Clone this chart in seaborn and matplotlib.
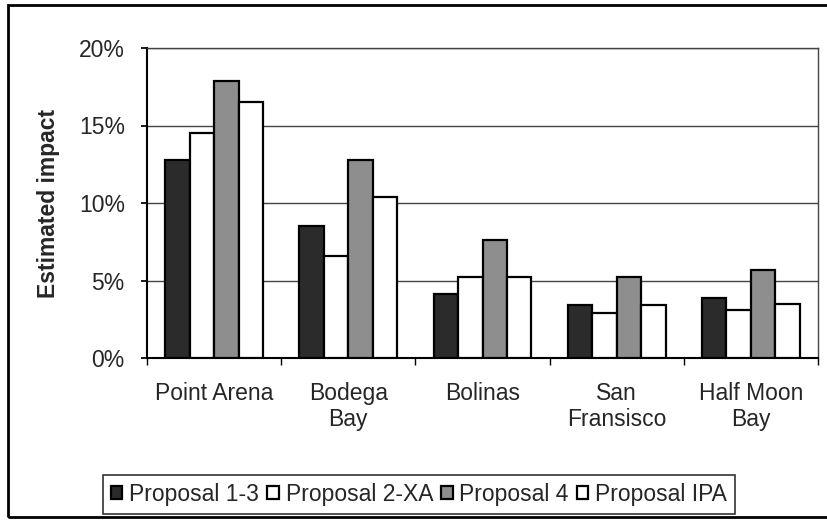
import numpy as np
import pandas as pd
import matplotlib
matplotlib.use("Agg")
import matplotlib.pyplot as plt
from matplotlib.ticker import PercentFormatter, FixedLocator
from matplotlib.patches import Rectangle
import seaborn as sns

# data (percent)
sites = ["Point Arena", "Bodega\nBay", "Bolinas", "San\nFransisco", "Half Moon\nBay"]
proposals = ["Proposal 1-3", "Proposal 2-XA", "Proposal 4", "Proposal IPA"]
p_1_3 = [12.8, 8.5, 4.1, 3.4, 3.9]
p_2_xa = [14.5, 6.6, 5.2, 2.9, 3.1]
p_4 = [17.9, 12.8, 7.6, 5.2, 5.7]
p_ipa = [16.5, 10.4, 5.2, 3.4, 3.5]
yticks = [0, 5, 10, 15, 20]

df = pd.DataFrame({
    "site": sites * 4,
    "proposal": np.repeat(proposals, len(sites)),
    "impact": p_1_3 + p_2_xa + p_4 + p_ipa,
})

sns.set_theme(style="white")
plt.rcParams["font.family"] = ["Liberation Sans", "DejaVu Sans"]

colors = ["#2b2b2b", "#ffffff", "#8e8e8e", "#ffffff"]

fig = plt.figure(figsize=(8.28, 5.23), dpi=100)
ax = fig.add_axes([147 / 828, 1 - 358 / 523, 671 / 828, 310 / 523])

sns.barplot(data=df, x="site", y="impact", hue="proposal", order=sites,
            hue_order=proposals, palette=colors, width=0.73, saturation=1,
            edgecolor="black", linewidth=1.6, ax=ax, legend=True, zorder=3)

ax.set_ylim(0, 20)
ax.set_xlim(-0.5, len(sites) - 0.5)
ax.yaxis.set_major_locator(FixedLocator(yticks))
ax.yaxis.set_major_formatter(PercentFormatter(decimals=0))
ax.grid(axis="y", color="#444444", linewidth=1.0, zorder=0)
ax.set_axisbelow(True)

ax.set_xlabel("")
ax.set_ylabel("Estimated impact", fontsize=16.5, fontweight="bold")
ax.yaxis.set_label_coords(-0.13, 0.5)

ax.tick_params(axis="y", labelsize=16.5, length=4, direction="out", pad=12,
               left=True, color="black")
ax.tick_params(axis="x", labelsize=16.5, length=0, pad=17)
ax.set_xticks(np.arange(-0.5, len(sites)), minor=True)
ax.tick_params(axis="x", which="minor", length=5, bottom=True, color="black")

for side in ["left", "bottom"]:
    ax.spines[side].set_color("black")
    ax.spines[side].set_linewidth(1.5)
ax.spines["top"].set_color("#444444")
ax.spines["top"].set_linewidth(1.0)
ax.spines["right"].set_color("#444444")
ax.spines["right"].set_linewidth(1.0)

handles, labels = ax.get_legend_handles_labels()
ax.legend_.remove()
leg = fig.legend(handles, labels, loc="center", bbox_to_anchor=(419 / 828, 1 - 494.5 / 523),
                 ncol=4, fontsize=16.5, frameon=True, fancybox=False,
                 edgecolor="black", handlelength=0.5, handleheight=0.5,
                 handletextpad=0.3, columnspacing=0.35, borderpad=0.35,
                 borderaxespad=0)
leg.get_frame().set_linewidth(1.2)

# outer chart border
fig.patches.append(Rectangle((8 / 828, 6 / 523), 1.2, 512 / 523, transform=fig.transFigure,
                             fill=False, edgecolor="black", linewidth=2.0))

fig.savefig("out.png", dpi=100, facecolor="white")
